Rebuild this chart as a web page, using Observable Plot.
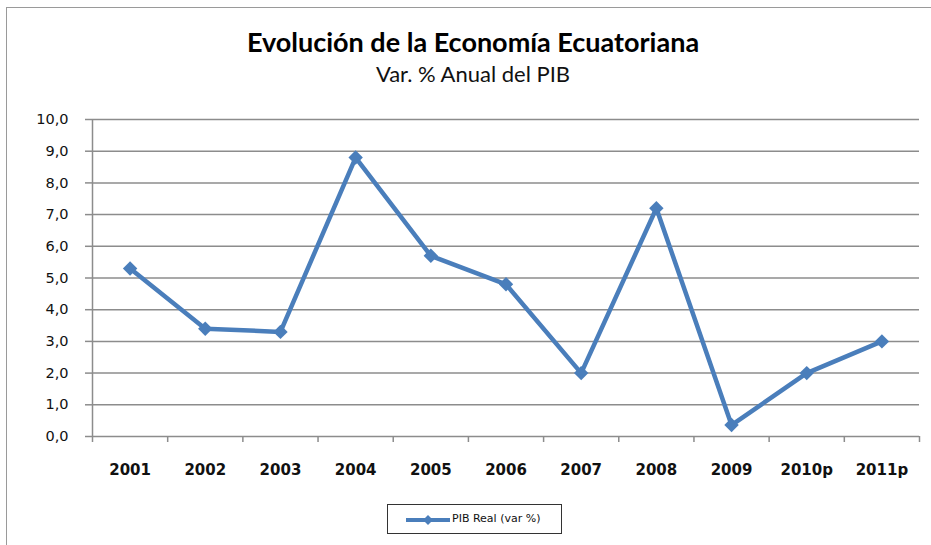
<!DOCTYPE html>
<html>
<head>
<meta charset="utf-8">
<script src="https://cdn.jsdelivr.net/npm/d3@7"></script>
<script src="https://cdn.jsdelivr.net/npm/@observablehq/plot@0.6"></script>
<style>
  html, body { margin: 0; padding: 0; background: #fff; }
  #wrap { position: relative; width: 931px; height: 545px; overflow: hidden; background: #fff; }
  #frame { position: absolute; left: 6px; top: 7px; width: 940px; height: 560px; border-left: 1.5px solid #9a9a9a; border-top: 1.5px solid #9a9a9a; }
  #title { position: absolute; left: 0; width: 946px; top: 26px; line-height: 1.2; text-align: center; font-family: Lato, sans-serif; font-weight: bold; font-size: 27px; color: #000; }
  #subtitle { position: absolute; left: 0; width: 946px; top: 61px; line-height: 1.2; text-align: center; font-family: Lato, sans-serif; font-size: 22px; color: #111; }
  #chart { position: absolute; left: 0; top: 100px; }
  #legend { position: absolute; left: 387px; top: 504px; width: 173px; height: 28px; border: 1.5px solid #333; box-sizing: content-box; font-family: "DejaVu Sans", sans-serif; font-size: 11px; color: #111; }
  #legend svg { position: absolute; left: 17px; top: 9px; }
  #legend span { position: absolute; left: 64px; top: 7px; white-space: nowrap; }
</style>
</head>
<body>
<div id="wrap">
  <div id="frame"></div>
  <div id="title">Evolución de la Economía Ecuatoriana</div>
  <div id="subtitle">Var. % Anual del PIB</div>
  <div id="chart"></div>
  <div id="legend">
    <svg width="46" height="12"><line x1="1" y1="6" x2="45" y2="6" stroke="#4a7ebb" stroke-width="4"/><path d="M23,1 L28,6 L23,11 L18,6 Z" fill="#4a7ebb"/></svg>
    <span>PIB Real (var %)</span>
  </div>
</div>
<script>
const years = ["2001", "2002", "2003", "2004", "2005", "2006", "2007", "2008", "2009", "2010p", "2011p"];
const pib = [5.3, 3.4, 3.3, 8.8, 5.7, 4.8, 2.0, 7.2, 0.36, 2.0, 3.0];
const yTicks = [0, 1, 2, 3, 4, 5, 6, 7, 8, 9, 10];

const data = years.map((year, i) => ({pos: i + 0.5, year, value: pib[i]}));
const boundaries = d3.range(years.length + 1);
const centers = years.map((_, i) => i + 0.5);
const grid = "#8c8c8c";
const blue = "#4a7ebb";

const chart = Plot.plot({
  width: 931,
  height: 400,
  marginTop: 19,
  marginBottom: 64,
  marginLeft: 92,
  marginRight: 12,
  x: {type: "linear", domain: [0, years.length], axis: null},
  y: {domain: [0, 10], axis: null},
  style: {fontFamily: "DejaVu Sans, sans-serif", fontSize: "14.5px", color: "#000", background: "transparent"},
  marks: [
    Plot.gridY(yTicks, {stroke: grid, strokeOpacity: 1, strokeWidth: 1.5}),
    Plot.ruleX([0], {stroke: grid, strokeWidth: 1.5}),
    Plot.axisY({ticks: yTicks, tickSize: 7, tickPadding: 17, stroke: grid, strokeWidth: 1.5, fill: "#111", label: null,
      tickFormat: d => d.toFixed(1).replace(".", ",")}),
    Plot.axisX({ticks: boundaries, tickSize: 6, tickFormat: () => "", stroke: grid, strokeWidth: 1.5, label: null}),
    Plot.axisX({ticks: centers, tickSize: 0, tickPadding: 28, fontWeight: "bold", fontSize: 15, fill: "#111", label: null,
      tickFormat: v => years[Math.floor(v)]}),
    Plot.line(data, {x: "pos", y: "value", stroke: blue, strokeWidth: 4.5, strokeLinejoin: "round"}),
    Plot.dot(data, {x: "pos", y: "value", symbol: "diamond2", r: 6.5, fill: blue, stroke: null})
  ]
});
document.getElementById("chart").appendChild(chart);
</script>
</body>
</html>
